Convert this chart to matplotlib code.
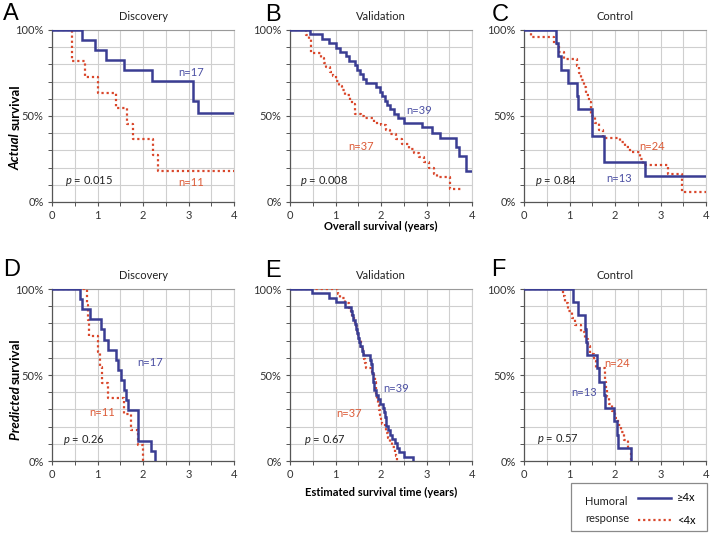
import matplotlib
matplotlib.use('Agg')
import matplotlib.pyplot as plt
from matplotlib.patches import Rectangle
from matplotlib.ticker import MultipleLocator

plt.rcParams['font.family'] = ['Lato', 'DejaVu Sans']
plt.rcParams['mathtext.fontset'] = 'custom'
plt.rcParams['mathtext.it'] = 'Lato:italic'
plt.rcParams['mathtext.rm'] = 'Lato'

# ---------------- data ----------------
panel_letters = ['A', 'B', 'C', 'D', 'E', 'F']
panel_titles = ['Discovery', 'Validation', 'Control', 'Discovery', 'Validation', 'Control']
p_values = ['0.015', '0.008', '0.84', '0.26', '0.67', '0.57']
n_hi = ['n=17', 'n=39', 'n=13', 'n=17', 'n=39', 'n=13']
n_lo = ['n=11', 'n=37', 'n=24', 'n=11', 'n=37', 'n=24']
series_labels = ['\u22654x', '<4x']
x_ticks = [0, 1, 2, 3, 4]
y_ticks = [0, 50, 100]
y_tick_labels = ['0%', '50%', '100%']

# Panel A (actual, discovery)
A_hi_t = [0.65, 0.95, 1.18, 1.59, 2.2, 3.09, 3.2]
A_hi_s = [94.1, 88.2, 82.4, 76.5, 70.6, 58.8, 51.5]
A_hi_end = 4.0
A_lo_t = [0.44, 0.73, 1.0, 1.4, 1.64, 1.78, 2.23, 2.33]
A_lo_s = [81.8, 72.7, 63.6, 54.5, 45.5, 36.4, 27.3, 18.2]
A_lo_end = 4.0

# Panel B (actual, validation)
B_hi_t = [0.44, 0.7, 0.85, 1.0, 1.1, 1.22, 1.3, 1.42, 1.48, 1.53, 1.6, 1.66, 1.9, 1.97,
          2.03, 2.08, 2.13, 2.2, 2.28, 2.38, 2.5, 2.9, 3.13, 3.3, 3.64, 3.72, 3.86]
B_hi_s = [97.4, 94.9, 92.3, 89.7, 87.2, 84.6, 82.1, 79.5, 76.9, 74.4, 71.8, 69.2, 66.7, 64.1,
          61.5, 59.0, 56.4, 53.8, 51.3, 48.7, 46.2, 43.4, 40.2, 37.0, 32.0, 27.0, 18.0]
B_hi_end = 4.0
B_lo_t = [0.35, 0.42, 0.46, 0.68, 0.74, 0.8, 0.88, 0.95, 1.0, 1.07, 1.14, 1.21, 1.32, 1.36,
          1.43, 1.55, 1.62, 1.84, 2.0, 2.1, 2.2, 2.32, 2.46, 2.61, 2.72, 2.83, 2.94, 3.05,
          3.16, 3.24, 3.52]
B_lo_s = [97.3, 94.6, 86.5, 83.8, 81.1, 78.4, 75.7, 73.0, 70.3, 67.6, 64.9, 62.2, 59.5, 56.8,
          51.4, 50.0, 48.6, 46.0, 44.6, 42.0, 39.5, 36.9, 34.0, 31.0, 28.2, 26.0, 23.3, 19.5,
          16.5, 14.6, 7.8]
B_lo_end = 3.79

# Panel C (actual, control)
C_hi_t = [0.71, 0.75, 0.82, 0.97, 1.16, 1.19, 1.49, 1.76, 2.67]
C_hi_s = [92.3, 84.6, 76.9, 69.2, 61.5, 53.8, 38.5, 23.1, 15.4]
C_hi_end = 4.0
C_lo_t = [0.16, 0.66, 0.77, 0.88, 1.16, 1.2, 1.25, 1.32, 1.36, 1.43, 1.47, 1.55, 1.65, 1.74,
          2.11, 2.22, 2.33, 2.54, 2.62, 3.16, 3.48]
C_lo_s = [95.8, 91.7, 87.5, 83.3, 79.2, 75.0, 70.8, 66.7, 62.5, 58.3, 50.0, 45.8, 41.7, 37.5,
          35.0, 32.0, 29.0, 25.0, 21.4, 16.0, 5.8]
C_lo_end = 4.0

# Panel D (predicted, discovery)
D_hi_t = [0.61, 0.67, 0.84, 1.07, 1.15, 1.23, 1.4, 1.45, 1.51, 1.59, 1.62, 1.68, 1.88, 1.9, 2.18, 2.26]
D_hi_s = [94.1, 88.2, 82.4, 76.5, 70.6, 64.7, 58.8, 52.9, 47.1, 41.2, 35.3, 29.4, 23.5, 11.8, 5.9, 0.0]
D_hi_end = 2.26
D_lo_t = [0.78, 0.8, 0.82, 1.0, 1.05, 1.1, 1.24, 1.58, 1.73, 1.9, 2.0]
D_lo_s = [90.9, 81.8, 72.7, 63.6, 54.5, 45.5, 36.4, 27.3, 18.2, 9.1, 0.0]
D_lo_end = 2.0

# Panel E (predicted, validation)
E_hi_t = [0.48, 0.85, 1.02, 1.2, 1.33, 1.36, 1.39, 1.42, 1.45, 1.48, 1.5, 1.51, 1.53, 1.58,
          1.6, 1.75, 1.77, 1.8, 1.81, 1.82, 1.83, 1.84, 1.85, 1.9, 1.93, 1.97, 2.05, 2.07,
          2.08, 2.1, 2.12, 2.15, 2.2, 2.25, 2.3, 2.35, 2.4, 2.5, 2.7]
E_hi_s = [97.4, 94.9, 92.3, 89.7, 87.2, 84.6, 82.1, 79.5, 76.9, 74.4, 71.8, 69.2, 66.7, 64.1,
          61.5, 59.0, 56.4, 53.8, 51.3, 48.7, 46.2, 43.6, 41.0, 38.5, 35.9, 33.3, 30.8, 28.2,
          25.6, 23.1, 20.5, 17.9, 15.4, 12.8, 10.3, 7.7, 5.1, 2.6, 0.0]
E_hi_end = 2.7
E_lo_t = [1.06, 1.1, 1.2, 1.3, 1.33, 1.36, 1.4, 1.43, 1.48, 1.5, 1.52, 1.55, 1.57, 1.6,
          1.62, 1.64, 1.66, 1.8, 1.84, 1.86, 1.88, 1.89, 1.9, 1.92, 1.94, 1.96, 1.98, 2.0,
          2.03, 2.08, 2.12, 2.15, 2.2, 2.25, 2.3, 2.33, 2.35]
E_lo_s = [97.3, 94.6, 91.9, 89.2, 86.5, 83.8, 81.1, 78.4, 75.7, 73.0, 70.3, 67.6, 64.9, 62.2,
          59.5, 56.8, 54.1, 51.4, 48.6, 45.9, 43.2, 40.5, 37.8, 35.1, 32.4, 29.7, 27.0, 24.3,
          21.6, 18.9, 16.2, 13.5, 10.8, 8.1, 5.4, 2.7, 0.0]
E_lo_end = 2.35

# Panel F (predicted, control)
F_hi_t = [1.08, 1.19, 1.34, 1.37, 1.39, 1.6, 1.65, 1.75, 1.78, 1.98, 2.04, 2.07, 2.35]
F_hi_s = [92.3, 84.6, 76.9, 69.2, 61.5, 53.8, 46.2, 38.5, 30.8, 23.1, 15.4, 7.7, 0.0]
F_hi_end = 2.35
F_lo_t = [0.85, 0.9, 0.97, 1.05, 1.13, 1.25, 1.33, 1.4, 1.45, 1.53, 1.58, 1.77, 1.79, 1.81,
          1.83, 1.87, 1.93, 1.99, 2.06, 2.13, 2.2, 2.28, 2.35]
F_lo_s = [95.8, 91.7, 87.5, 83.3, 79.2, 75.0, 70.8, 66.7, 62.5, 58.3, 54.2, 50.0, 45.8, 41.7,
          37.5, 33.3, 29.2, 25.0, 20.8, 16.7, 12.5, 8.3, 0.0]
F_lo_end = 2.35

hi_curves = [(A_hi_t, A_hi_s, A_hi_end), (B_hi_t, B_hi_s, B_hi_end), (C_hi_t, C_hi_s, C_hi_end),
             (D_hi_t, D_hi_s, D_hi_end), (E_hi_t, E_hi_s, E_hi_end), (F_hi_t, F_hi_s, F_hi_end)]
lo_curves = [(A_lo_t, A_lo_s, A_lo_end), (B_lo_t, B_lo_s, B_lo_end), (C_lo_t, C_lo_s, C_lo_end),
             (D_lo_t, D_lo_s, D_lo_end), (E_lo_t, E_lo_s, E_lo_end), (F_lo_t, F_lo_s, F_lo_end)]

# annotation positions (data coords)
n_hi_pos = [(3.05, 75), (2.83, 53), (2.1, 13.5), (2.15, 57), (2.34, 42), (1.33, 40)]
n_lo_pos = [(3.05, 11.5), (1.57, 32), (2.82, 32), (1.1, 28), (1.3, 27.5), (2.05, 56.5)]
p_pos = [(0.29, 12), (0.22, 12.5), (0.24, 12), (0.25, 12), (0.3, 12), (0.29, 12.5)]

# ---------------- styling ----------------
BLUE = '#3a3d93'
RED = '#d9472b'
BLUE_TXT = '#4b4fa3'
RED_TXT = '#dc5a36'
GRID = '#cfcfcf'

W, H = 711, 533
fig = plt.figure(figsize=(W / 100, H / 100), dpi=100)

col_left = [52, 290, 524]
col_w = 182
row_top = [30, 289]
row_h = 172

axes = []
for i in range(6):
    r, c = divmod(i, 3)
    ax = fig.add_axes([col_left[c] / W, 1 - (row_top[r] + row_h) / H, col_w / W, row_h / H])
    axes.append(ax)
    ax.set_xlim(0, 4)
    ax.set_ylim(0, 100)
    ax.xaxis.set_major_locator(plt.FixedLocator(x_ticks))
    ax.xaxis.set_minor_locator(MultipleLocator(0.5))
    ax.yaxis.set_major_locator(plt.FixedLocator(y_ticks))
    ax.yaxis.set_minor_locator(MultipleLocator(10))
    ax.set_yticklabels(y_tick_labels)
    ax.grid(True, which='both', color=GRID, linewidth=0.8)
    ax.set_axisbelow(True)
    for s in ['left', 'bottom']:
        ax.spines[s].set_color('#555555')
        ax.spines[s].set_linewidth(0.9)
    ax.spines['top'].set_color('#9a9a9a')
    ax.spines['top'].set_linewidth(0.8)
    ax.spines['right'].set_color(GRID)
    ax.spines['right'].set_linewidth(0.8)
    ax.tick_params(which='major', length=3, width=0.8, color='#555555', labelsize=8,
                   labelcolor='#333333', pad=3)
    ax.tick_params(which='minor', length=3, width=0.7, color='#555555')

    # curves
    t, s, end = lo_curves[i]
    ax.step([0] + t + [end], [100] + s + [s[-1]], where='post', color=RED,
            linestyle=(0, (1, 1.3)), linewidth=1.6, zorder=3)
    t, s, end = hi_curves[i]
    ax.step([0] + t + [end], [100] + s + [s[-1]], where='post', color=BLUE,
            linewidth=1.8, zorder=4, solid_joinstyle='miter')

    ax.set_title(panel_titles[i], fontsize=8, pad=7, color='#222222')
    ax.text(*n_hi_pos[i], n_hi[i], color=BLUE_TXT, fontsize=8, ha='center', va='center', zorder=5)
    ax.text(*n_lo_pos[i], n_lo[i], color=RED_TXT, fontsize=8, ha='center', va='center', zorder=5)
    ax.text(*p_pos[i], '$p$ = ' + p_values[i], color='#222222', fontsize=8, ha='left', va='center',
            zorder=5)

# panel letters
letter_pos = [(3, 20), (265, 21), (492, 21), (3, 276), (265, 277), (491, 276)]
for L, (x, y) in zip(panel_letters, letter_pos):
    fig.text(x / W, 1 - y / H, L, fontsize=17, family=['Liberation Sans', 'DejaVu Sans'],
             ha='left', va='baseline')

fig.canvas.draw()
renderer = fig.canvas.get_renderer()

def vlabel(word_it, word_rest, xc, yc_center_px, size=9.5):
    ta = fig.text(0, 0, word_it + ' ', rotation=90, fontsize=size, fontweight='bold',
                  fontstyle='italic', ha='center', va='bottom')
    tb = fig.text(0, 0, word_rest, rotation=90, fontsize=size, fontweight='bold',
                  ha='center', va='bottom')
    ha_ = ta.get_window_extent(renderer).height
    hb_ = tb.get_window_extent(renderer).height
    total = ha_ + hb_
    y0 = (H - yc_center_px) - total / 2
    ta.set_position((xc / W, y0 / H))
    tb.set_position((xc / W, (y0 + ha_) / H))

vlabel('Actual', 'survival', 16, 127)
vlabel('Predicted', 'survival', 16, 389)

fig.text(((290 + 472) / 2) / W, 1 - 226 / H, 'Overall survival (years)', fontsize=8,
         fontweight='bold', ha='center', va='center')
fig.text(((290 + 472) / 2) / W, 1 - 492 / H, 'Estimated survival time (years)', fontsize=8,
         fontweight='bold', ha='center', va='center')

# legend box
fig.patches.append(Rectangle((571 / W, 1 - 531 / H), 136 / W, 48 / H, transform=fig.transFigure,
                             facecolor='white', edgecolor='#8a8a8a', linewidth=0.9))
fig.text(585 / W, 1 - 510 / H, 'Humoral\nresponse', fontsize=8, ha='left', va='center',
         linespacing=1.6, color='#222222')
h_lines = [axes[0].lines[1], axes[0].lines[0]]
leg = fig.legend(h_lines, series_labels, loc='center left', bbox_to_anchor=(638 / W, 1 - 509 / H),
                 frameon=False, fontsize=8, handlelength=3.0, handletextpad=0.5,
                 labelspacing=1.0, borderpad=0, borderaxespad=0)

fig.savefig('out.png', dpi=100, facecolor='white')
